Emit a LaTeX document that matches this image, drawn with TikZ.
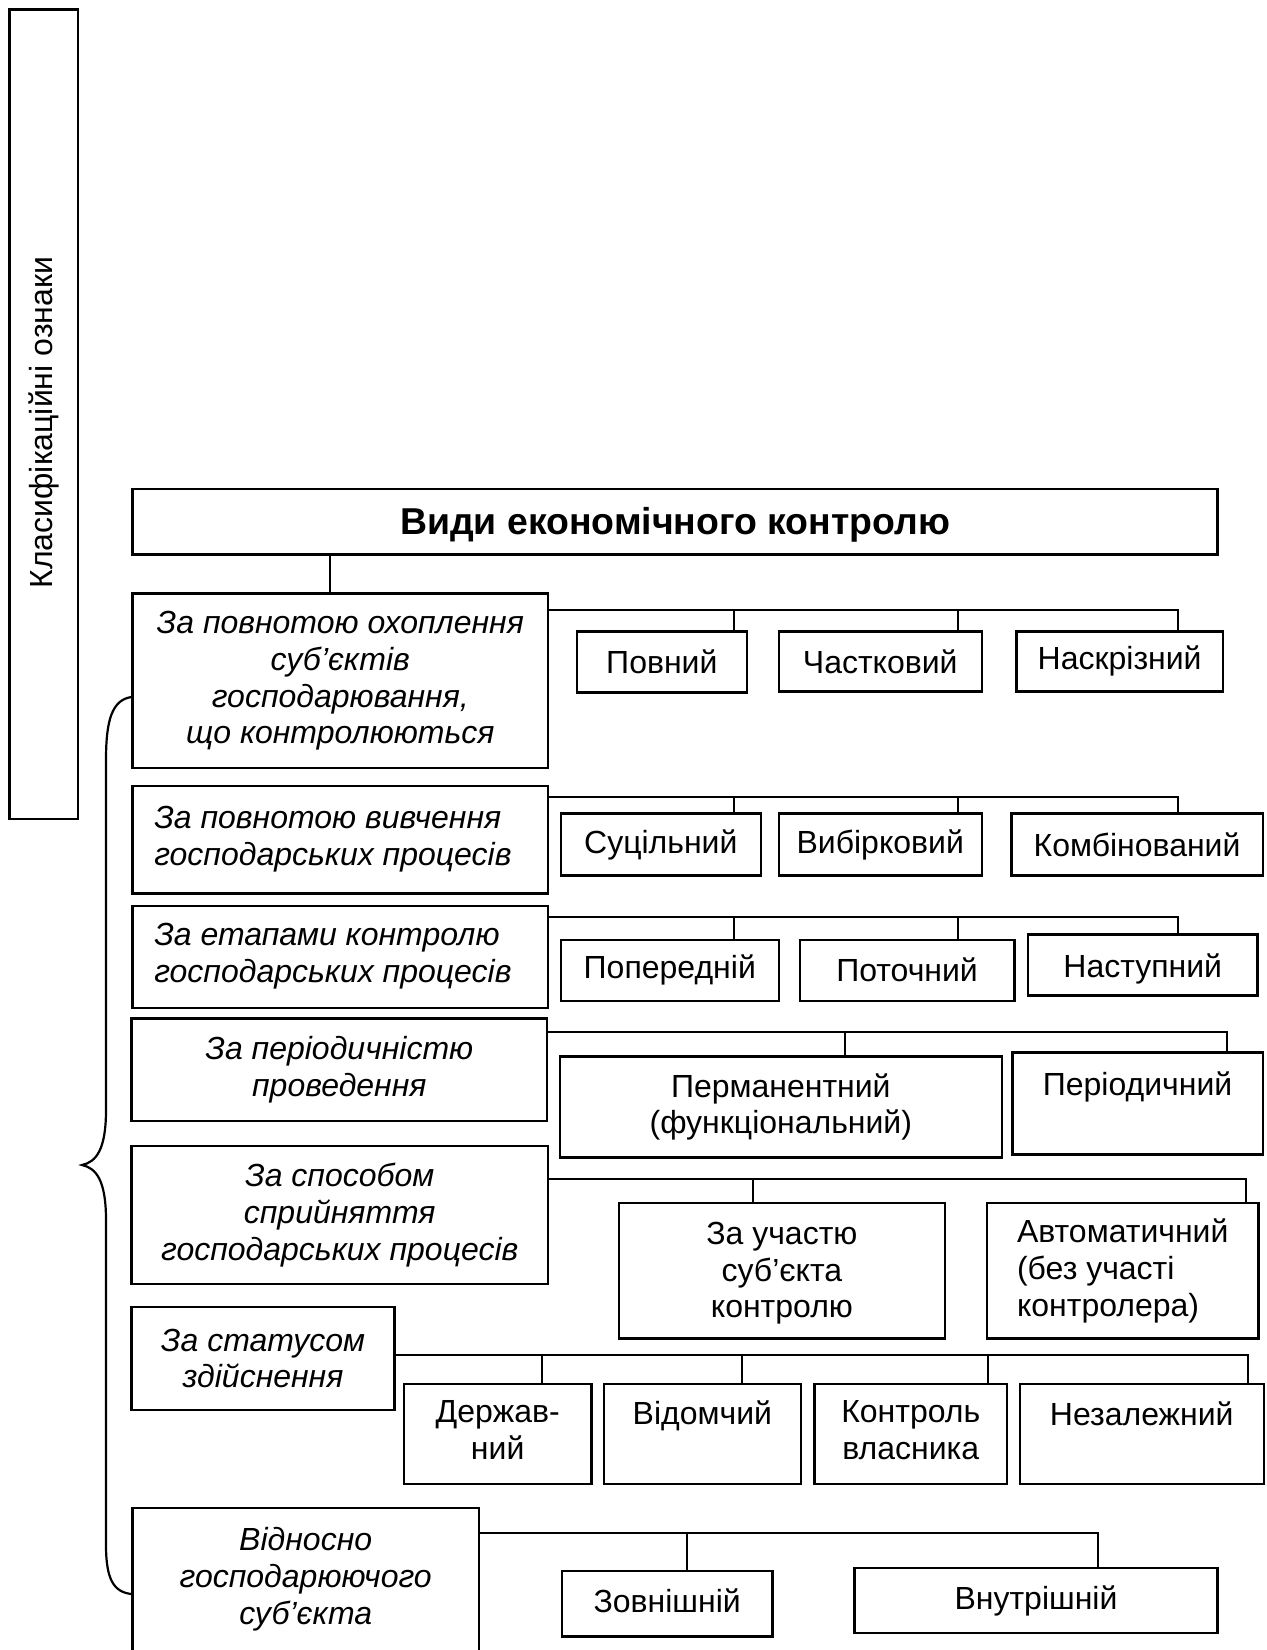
\documentclass[tikz,border=0pt]{standalone}
\usepackage{fontspec}
\usepackage{graphicx}
\setmainfont{Liberation Sans}
\tikzset{
  bx/.style={draw, line width=1.2pt, inner sep=0pt, align=center, font=\fontsize{16}{18.4}\selectfont},
  ln/.style={line width=1pt},
}
\newcommand\bx[7][]{\node[bx,minimum width={(#4-#2)*0.5pt},minimum height={(#5-#3)*0.5pt},#1] (#6) at ({(#2+#4)/2},{(#3+#5)/2}) {#7};}
\begin{document}
\begin{tikzpicture}[x=0.5pt,y=-0.5pt]
\useasboundingbox (0,0) rectangle (1267,1650);
% left vertical box
\bx{9.5}{9.5}{78}{819}{left}{\rotatebox{90}{\kern-8.4pt Класифікаційні ознаки}}
% title
\bx[font=\fontsize{18.7}{20}\selectfont\bfseries]{132.6}{489}{1217.5}{554.6}{title}{\raisebox{-1.5pt}[\height][\depth]{Види економічного контролю}}
% row 1
\bx{132.6}{593.5}{548}{768}{b1}{\itshape За повнотою охоплення\\\itshape суб’єктів\\\itshape господарювання,\\\itshape що контролюються}
\bx{576.7}{631.4}{747}{692.4}{c11}{Повний}
\bx{778.7}{631.4}{981.8}{691.4}{c12}{Частковий}
\bx{1016.5}{631.4}{1222.8}{691.4}{c13}{Наскрізний}
% row 2
\bx{132.6}{786}{548}{893.4}{b2}{\itshape\hspace*{-7.4pt}\begin{tabular}{@{}l@{}}За повнотою вивчення\\господарських процесів\end{tabular}}
\bx{560.9}{813.4}{760.8}{875.5}{c21}{Суцільний}
\bx{778.7}{813.4}{981.8}{875.5}{c22}{Вибірковий}
\bx{1011.3}{813.4}{1262.8}{875.5}{c23}{Комбінований}
% row 3
\bx{132.6}{906}{548}{1008}{b3}{\itshape\hspace*{-7.4pt}\begin{tabular}{@{}l@{}}За етапами контролю\\господарських процесів\end{tabular}}
\bx{560.9}{939.7}{778.7}{1000.7}{c31}{Попередній}
\bx{799.7}{939.7}{1014.4}{1000.7}{c32}{Поточний}
\bx{1028}{934.4}{1257.5}{995.5}{c33}{\raisebox{-2pt}[\height][\depth]{Наступний}}
% row 4
\bx{131.5}{1018.6}{547.2}{1120.7}{b4}{\itshape За періодичністю\\\itshape проведення}
\bx{559.8}{1056.5}{1001.8}{1157.5}{c41}{Перманентний\\(функціональний)}
\bx{1012.3}{1052.3}{1262.8}{1154.4}{c42}{\raisebox{8pt}[\height][\depth]{Періодичний}}
% row 5
\bx{131.5}{1146}{548}{1283.8}{b5}{\itshape За способом\\\itshape сприйняття\\\itshape господарських процесів}
\bx{618.8}{1202.8}{945}{1338.5}{c51}{\raisebox{-1.5pt}[\height][\depth]{\begin{tabular}{@{}c@{}}За участю\\суб’єкта\\контролю\end{tabular}}}
\bx[align=left]{987}{1202.8}{1258.5}{1338.5}{c52}{Автоматичний\\(без участі\\контролера)}
% row 6
\bx{131.5}{1307}{394.6}{1410}{b6}{\itshape За статусом\\\itshape здійснення}
\bx{404}{1383.8}{591.4}{1483.7}{c61}{\begin{tabular}{@{}c@{}}Держав-\\ний\end{tabular}}
\bx{604}{1383.8}{800.8}{1483.7}{c62}{\raisebox{9pt}[\height][\depth]{Відомчий}}
\bx{814.5}{1383.8}{1007}{1483.7}{c63}{\begin{tabular}{@{}c@{}}Контроль\\власника\end{tabular}}
\bx{1019.7}{1383.8}{1263.8}{1483.7}{c64}{\raisebox{10pt}[\height][\depth]{Незалежний}}
% row 7
\bx{132.6}{1508}{478.8}{1660}{b7}{\itshape\raisebox{2pt}[\height][\depth]{\begin{tabular}{@{}c@{}}Відносно\\господарюючого\\суб’єкта\end{tabular}}}
\bx{562}{1571}{772.4}{1636.3}{c71}{\raisebox{1.5pt}[\height][\depth]{Зовнішній}}
\bx{854.5}{1568}{1217.5}{1633}{c72}{Внутрішній}
% connectors
\draw[ln] (330,0 |- title.south) -- (330,0 |- b1.north);
% row 1
\draw[ln] (b1.east |- 0,610) -- (1177.5,610) -- (1177.5,0 |- c13.north);
\draw[ln] (733.5,610) -- (733.5,0 |- c11.north);
\draw[ln] (957.6,610) -- (957.6,0 |- c12.north);
% row 2
\draw[ln] (b2.east |- 0,796.6) -- (1177.5,796.6) -- (1177.5,0 |- c23.north);
\draw[ln] (733.5,796.6) -- (733.5,0 |- c21.north);
\draw[ln] (957.6,796.6) -- (957.6,0 |- c22.north);
% row 3
\draw[ln] (b3.east |- 0,916.6) -- (1177.5,916.6) -- (1177.5,0 |- c33.north);
\draw[ln] (733.5,916.6) -- (733.5,0 |- c31.north);
\draw[ln] (957.6,916.6) -- (957.6,0 |- c32.north);
% row 4
\draw[ln] (b4.east |- 0,1032.3) -- (1227,1032.3) -- (1227,0 |- c42.north);
\draw[ln] (845,1032.3) -- (845,0 |- c41.north);
% row 5
\draw[ln] (b5.east |- 0,1178.6) -- (1246,1178.6) -- (1246,0 |- c52.north);
\draw[ln] (753.4,1178.6) -- (753.4,0 |- c51.north);
% row 6
\draw[ln] (b6.east |- 0,1355.4) -- (1248,1355.4) -- (1248,0 |- c64.north);
\draw[ln] (542,1355.4) -- (542,0 |- c61.north);
\draw[ln] (742,1355.4) -- (742,0 |- c62.north);
\draw[ln] (988,1355.4) -- (988,0 |- c63.north);
% row 7
\draw[ln] (b7.east |- 0,1533) -- (1097.5,1533) -- (1097.5,0 |- c72.north);
\draw[ln] (687,1533) -- (687,0 |- c71.north);
% brace
\draw[line width=1.1pt] (b1.west |- 0,697) .. controls (112,700) and (106,720) .. (106,760) -- (106,1110) .. controls (106,1150) and (96,1162) .. (82,1165) .. controls (96,1168) and (106,1180) .. (106,1220) -- (106,1545) .. controls (106,1580) and (114,1592) .. (b7.west |- 0,1594);
\end{tikzpicture}
\end{document}
